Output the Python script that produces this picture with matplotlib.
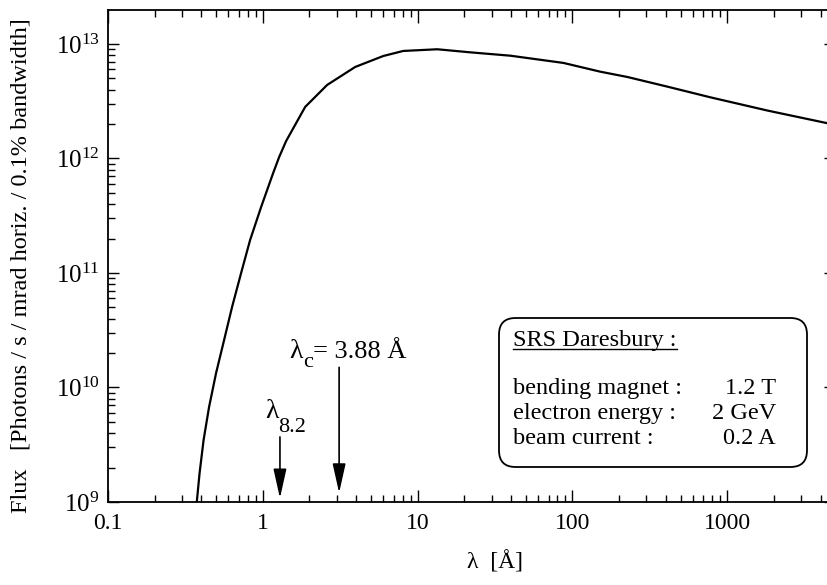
import matplotlib
matplotlib.use("Agg")
from matplotlib import pyplot as plt
from matplotlib.patches import FancyBboxPatch
from matplotlib.ticker import FixedLocator, FixedFormatter, LogLocator, NullFormatter

plt.rcParams["font.family"] = ["Liberation Serif", "DejaVu Serif"]
plt.rcParams["mathtext.fontset"] = "custom"
plt.rcParams["mathtext.rm"] = "Liberation Serif"
plt.rcParams["mathtext.it"] = "Liberation Serif:italic"

# spectrum
wavelength = [0.3745, 0.3904, 0.4144, 0.4496, 0.4991, 0.5623, 0.633, 0.7241, 0.8276, 0.975,
              1.166, 1.275, 1.414, 1.877, 2.604, 3.952, 5.995, 8.07, 13.39, 21.9,
              39.7, 87.4, 151, 226, 410, 778, 1820, 4446]
flux = [1.0e9, 1.79e9, 3.48e9, 6.76e9, 1.34e10, 2.6e10, 5.05e10, 1.0e11, 1.94e11, 3.77e11,
        7.46e11, 1.03e12, 1.42e12, 2.82e12, 4.39e12, 6.3e12, 7.85e12, 8.69e12, 8.99e12, 8.45e12,
        7.9e12, 6.83e12, 5.73e12, 5.15e12, 4.24e12, 3.42e12, 2.62e12, 2.03e12]

xticks = [0.1, 1, 10, 100, 1000]
xticklabels = ["0.1", "1", "10", "100", "1000"]

# arrow markers (x, top, tip)
lam82 = (1.29, 3.7e9, 1.08e9)
lamc = (3.11, 1.5e10, 1.2e9)

box_title = "SRS Daresbury :"
box_labels = ["bending magnet :", "electron energy :", "beam current :"]
box_values = ["1.2 T", "2 GeV", "0.2 A"]

W, H = 828, 585
fig = plt.figure(figsize=(W / 100, H / 100), dpi=100)
ax = fig.add_axes([108 / W, 83 / H, 720 / W, 492 / H])

ax.plot(wavelength, flux, color="black", lw=1.6)
ax.set_xscale("log")
ax.set_yscale("log")
ax.set_xlim(0.1, 4470)
ax.set_ylim(1e9, 1.98e13)

ax.xaxis.set_major_locator(FixedLocator(xticks))
ax.xaxis.set_major_formatter(FixedFormatter(xticklabels))
ax.xaxis.set_minor_locator(LogLocator(base=10, subs=range(2, 10), numticks=20))
ax.xaxis.set_minor_formatter(NullFormatter())
ax.yaxis.set_minor_locator(LogLocator(base=10, subs=range(2, 10), numticks=20))
ax.yaxis.set_minor_formatter(NullFormatter())

ax.tick_params(which="both", direction="in", top=True, right=True, width=1)
ax.tick_params(axis="x", which="major", length=9, pad=8, labelsize=17)
ax.tick_params(axis="x", which="minor", length=5)
ax.tick_params(axis="y", which="major", length=8, pad=6, labelsize=18)
ax.tick_params(axis="y", which="minor", length=5, right=False)
ax.tick_params(axis="y", which="major", right=True)
for t in ax.yaxis.get_major_ticks():
    t.tick2line.set_markersize(3)
ax.spines["right"].set_visible(False)
for s in ["left", "bottom", "top"]:
    ax.spines[s].set_linewidth(1.3)

fig.text(21 / W, (H - 266) / H, "Flux   [Photons / s / mrad horiz. / 0.1% bandwidth]",
         rotation=90, ha="center", va="center", fontsize=17.5)
fig.text(495 / W, 23 / H, "λ  [Å]", ha="center", va="center", fontsize=17)

aprops = dict(arrowstyle="-|>,head_length=0.9,head_width=0.2", color="black", lw=1.2,
              mutation_scale=20, shrinkA=0, shrinkB=0)
ax.annotate("", xy=(lam82[0], lam82[2]), xytext=(lam82[0], lam82[1]), arrowprops=aprops)
ax.annotate("", xy=(lamc[0], lamc[2]), xytext=(lamc[0], lamc[1]), arrowprops=aprops)


def ptext(px, py, s, size, **kw):
    # text placed by pixel position (from top-left), baseline anchored
    fig.text(px / W, (H - py) / H, s, ha="left", va="baseline", fontsize=size, **kw)


ptext(265, 418, "λ", 20)
ptext(278, 432, "8.2", 16)
ptext(289, 358, "λ", 20)
ptext(303, 367, "c", 16)
ptext(313, 358, "= 3.88 Å", 19)

# info box
box = FancyBboxPatch((499 / W, (H - 467) / H), 308 / W, 149 / H,
                     boxstyle="round,pad=0,rounding_size=0.02", mutation_aspect=W / H,
                     transform=fig.transFigure, facecolor="white", edgecolor="black", lw=1.3,
                     zorder=3)
fig.patches.append(box)
ptext(513, 346, box_title, 17.5, zorder=4)
fig.add_artist(plt.Line2D([513 / W, 677 / W], [(H - 349) / H] * 2, color="black", lw=1, zorder=4))
for i, (lab, val) in enumerate(zip(box_labels, box_values)):
    py = 394 + 25 * i
    ptext(513, py, lab, 17.5, zorder=4)
    fig.text(776 / W, (H - py) / H, val, ha="right", va="baseline", fontsize=17.5, zorder=4)

fig.savefig("out.png", dpi=100)
